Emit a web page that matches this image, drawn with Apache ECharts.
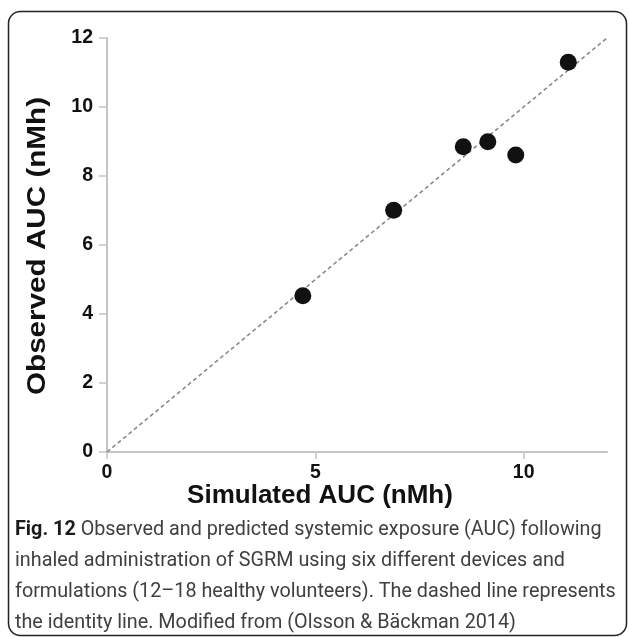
<!DOCTYPE html>
<html>
<head>
<meta charset="utf-8">
<script src="https://cdn.jsdelivr.net/npm/echarts@6/dist/echarts.min.js"></script>
<style>
  html, body { margin: 0; padding: 0; background: #fff; }
  #chart { width: 629px; height: 637px; }
</style>
</head>
<body>
<div id="chart"></div>
<script>
// simulated vs observed AUC (nMh), one point per device/formulation
const simulated = [4.70, 6.88, 8.55, 9.14, 9.81, 11.07];
const observed = [4.53, 7.01, 8.85, 8.99, 8.61, 11.30];
// identity line end points
const identity = [0, 12];
const xTicks = [0, 5, 10];
const yTicks = [0, 2, 4, 6, 8, 10, 12];

const captionLines = [
  'Observed and predicted systemic exposure (AUC) following',
  'inhaled administration of SGRM using six different devices and',
  'formulations (12\u201318 healthy volunteers). The dashed line represents',
  'the identity line. Modified from (Olsson & B\u00e4ckman 2014)'
];

var myChart = echarts.init(document.getElementById('chart'));

const axisGray = '#c4c4c4';
const labelFont = { color: '#111', fontSize: 19.5, fontWeight: 'bold', fontFamily: '"Liberation Sans", Arial, sans-serif' };
const capFont = 'Roboto, sans-serif';

// caption: first line starts with bold "Fig. 12"
const captionText = captionLines.map((l, i) => i === 0 ? '{b|Fig. 12} ' + l : l).join('\n');

let option = {
  animation: false,
  backgroundColor: '#fff',
  grid: { left: 107, top: 38, right: 22, bottom: 185, containLabel: false },
  xAxis: {
    type: 'value',
    min: 0,
    max: 12,
    interval: 5,
    splitLine: { show: false },
    axisLine: { lineStyle: { color: axisGray, width: 2 } },
    axisTick: { length: 7, lineStyle: { color: axisGray, width: 1.5 }, customValues: xTicks },
    axisLabel: Object.assign({ margin: 11, customValues: xTicks }, labelFont)
  },
  yAxis: {
    type: 'value',
    min: 0,
    max: 12,
    interval: 2,
    splitLine: { show: false },
    axisLine: { show: true, lineStyle: { color: axisGray, width: 2 } },
    axisTick: { show: true, length: 8, lineStyle: { color: axisGray, width: 1.5 }, customValues: yTicks },
    axisLabel: Object.assign({ margin: 14, customValues: yTicks }, labelFont)
  },
  series: [
    {
      type: 'line',
      data: identity.map(v => [v, v]),
      symbol: 'none',
      lineStyle: { color: '#8a8a8a', width: 1.6, type: [4, 3] },
      z: 1
    },
    {
      type: 'scatter',
      data: simulated.map((x, i) => [x, observed[i]]),
      symbolSize: 17,
      itemStyle: { color: '#111', opacity: 1 },
      z: 3
    }
  ],
  graphic: [
    {
      type: 'rect',
      shape: { x: 8.5, y: 11.5, width: 618, height: 624, r: 12 },
      style: { fill: 'none', stroke: '#222', lineWidth: 1.5 },
      silent: true
    },
    {
      type: 'text',
      x: 320,
      y: 496,
      style: {
        text: 'Simulated AUC (nMh)',
        fill: '#111',
        font: 'bold 26px "Liberation Sans", Arial, sans-serif',
        textAlign: 'center',
        textVerticalAlign: 'middle'
      }
    },
    {
      type: 'text',
      x: 38,
      y: 246,
      rotation: Math.PI / 2,
      scaleX: 1.14,
      style: {
        text: 'Observed AUC (nMh)',
        fill: '#111',
        font: 'bold 26px "Liberation Sans", Arial, sans-serif',
        textAlign: 'center',
        textVerticalAlign: 'middle'
      }
    },
    {
      type: 'text',
      x: 15,
      y: 514,
      scaleX: 0.965,
      style: {
        text: captionText,
        fill: '#404040',
        fontSize: 20.5,
        lineHeight: 31,
        fontFamily: capFont,
        rich: {
          b: { fontWeight: 'bold', fill: '#1a1a1a', fontSize: 20.5, lineHeight: 31, fontFamily: capFont }
        }
      }
    }
  ]
};

myChart.setOption(option);
</script>
</body>
</html>
